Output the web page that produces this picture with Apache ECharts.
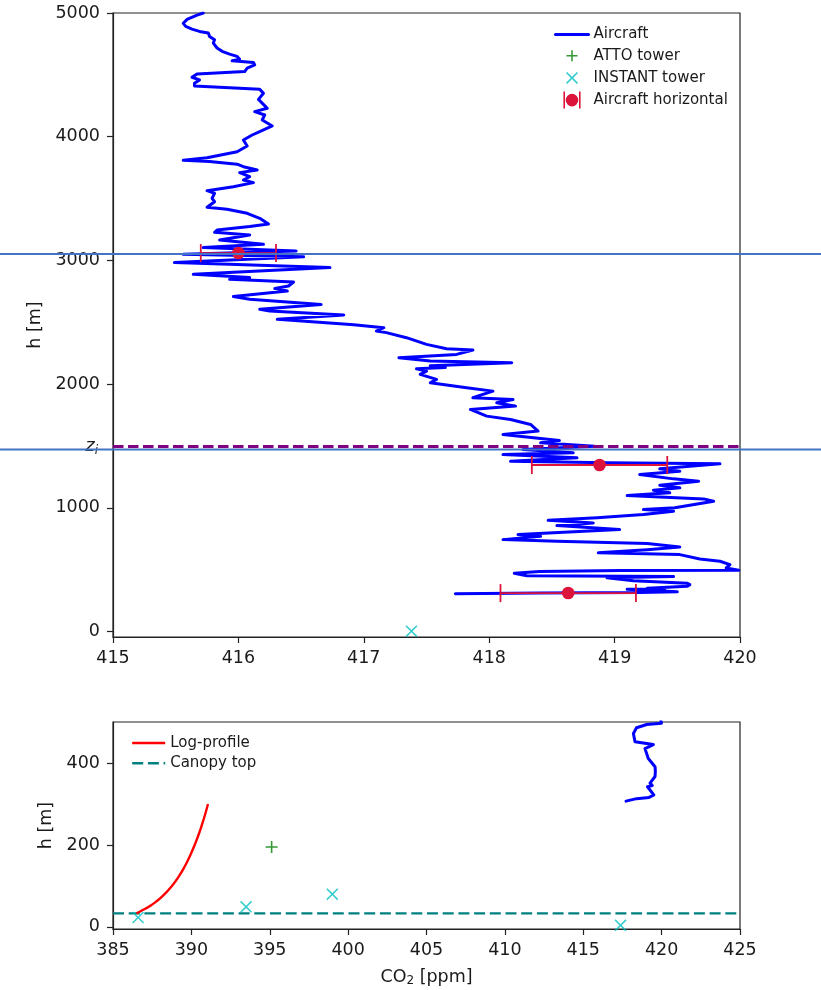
<!DOCTYPE html>
<html>
<head>
<meta charset="utf-8">
<script src="https://cdn.jsdelivr.net/npm/echarts@6.0.0/dist/echarts.min.js"></script>
<style>
html,body{margin:0;padding:0;background:#fff;}
#chart{width:821px;height:990px;}
</style>
</head>
<body>
<div id="chart"></div>
<script>
// ---------------- data ----------------
// Aircraft vertical profile (CO2 ppm, height m), bottom to top
const aircraftCO2 = [
417.73,418.40,419.20,419.50,419.10,419.40,419.26,419.58,419.60,419.58,
419.15,418.94,419.47,418.30,418.20,418.40,419.05,419.99,419.89,419.92,
419.84,419.68,419.52,418.87,419.26,419.52,419.26,418.54,418.11,418.41,
418.23,419.04,418.54,418.83,418.47,418.86,419.23,419.47,419.23,419.48,
419.79,419.71,419.10,419.44,419.31,419.52,419.36,419.67,419.47,419.20,
419.52,419.36,419.84,418.94,418.17,418.70,418.11,418.67,418.27,418.84,
418.41,418.56,418.11,418.39,418.33,418.17,417.98,417.85,418.21,418.06,
418.19,417.87,418.03,417.82,417.53,417.58,417.45,417.50,417.42,417.65,
417.53,418.18,417.53,417.28,417.74,417.87,417.66,417.50,417.34,417.18,
417.10,417.16,416.92,416.31,416.84,416.25,416.17,416.66,416.09,415.96,
416.39,416.29,416.40,416.44,415.93,416.09,415.64,416.73,415.49,416.52,
415.56,416.46,415.72,
416.20,415.85,416.09,415.81,415.83,416.09,416.24,416.17,416.07,415.91,
415.75,415.81,415.79,415.81,415.75,415.96,416.12,416.04,416.09,416.01,
416.15,416.04,415.99,415.77,415.56,415.75,415.99,416.07,416.04,416.11,
416.17,416.27,416.19,416.21,416.13,416.23,416.16,416.20,416.17,415.65,
415.65,415.69,415.63,415.67,416.05,416.07,416.13,416.12,415.95,416.01,
415.99,415.93,415.87,415.83,415.80,415.81,415.77,415.76,415.69,415.63,
415.58,415.56,415.59,415.67,415.72
];
const aircraftH = [
307,313,316,322,342,345,351,367,380,391,
411,435,445,452,472,486,494,497,515,542,
569,588,623,637,663,685,712,731,744,771,
785,825,858,879,900,920,947,973,987,1001,
1054,1073,1100,1122,1143,1163,1184,1216,1235,1270,
1297,1316,1357,1365,1378,1405,1432,1446,1472,1499,
1527,1545,1594,1621,1675,1715,1742,1796,1823,1850,
1877,1891,1944,1971,2012,2039,2079,2106,2125,2135,
2150,2174,2187,2214,2241,2276,2287,2322,2376,2417,
2430,2457,2480,2524,2560,2591,2605,2645,2686,2708,
2753,2773,2794,2826,2848,2862,2888,2943,2983,3030,
3050,3077,3104,
3131,3166,3206,3228,3246,3274,3295,3341,3381,3414,
3430,3475,3502,3543,3564,3596,3629,3650,3677,3710,
3731,3758,3778,3800,3810,3830,3879,3925,3974,4014,
4041,4087,4135,4176,4203,4230,4302,4351,4383,4410,
4432,4459,4481,4508,4527,4554,4581,4600,4614,4627,
4649,4668,4690,4717,4757,4784,4811,4838,4851,4870,
4892,4916,4948,4983,5000
];
// ATTO tower
const attoCO2 = [395.12];
const attoH = [195];
// INSTANT tower
const instantCO2 = [386.60, 393.49, 398.99, 417.38];
const instantH = [23, 49, 80, 4];
// Aircraft horizontal legs: mean, std, height
const horizCO2 = [416.00, 418.88, 418.63];
const horizErr = [0.30, 0.54, 0.54];
const horizH = [3060, 1347, 312];
// Log-profile
const logCO2 = [386.50,386.84,387.31,387.69,388.16,388.76,389.23,389.61,389.93,390.21,390.46,390.68,390.88,391.06];
const logH   = [33,40,50,60,75,100,125,150,175,200,225,250,275,300];
// Canopy top and boundary-layer height
const canopyTop = 33;
const ziHeight = 1500;
// Overlay reference lines (heights, m)
const overlayH = [3052, 1472];
// Axis ticks
const topYTicks = [0, 1000, 2000, 3000, 4000, 5000];
const bottomYTicks = [0, 200, 400];
const topXRange = [415, 420];
const bottomXRange = [385, 425];

// ---------------- chart ----------------
const FONT = 'DejaVu Sans';
const TXT = '#1a1a1a';
const zip = (a, b) => a.map((v, i) => [v, b[i]]);
const aircraftData = zip(aircraftCO2, aircraftH);
const attoData = zip(attoCO2, attoH);
const instantData = zip(instantCO2, instantH);
const horizData = horizCO2.map((v, i) => [v, horizH[i], horizErr[i]]);
const logData = zip(logCO2, logH);
const canopyData = [[bottomXRange[0], canopyTop], [bottomXRange[1], canopyTop]];

const PLUS = 'path://M-0.8,-6h1.6v5.2h5.2v1.6h-5.2v5.2h-1.6v-5.2h-5.2v-1.6h5.2z';
const CROSS = 'path://M-6,-4.9L-4.9,-6L0,-1.1L4.9,-6L6,-4.9L1.1,0L6,4.9L4.9,6L0,1.1L-4.9,6L-6,4.9L-1.1,0Z';
const PLUS_ICON = 'path://M0,0L0,0ZM33,17L33,17ZM15.7,3h1.6v4.7h4.7v1.6h-4.7v4.7h-1.6v-4.7h-4.7v-1.6h4.7z';
const CROSS_ICON = 'path://M0,0L0,0ZM33,17L33,17ZM10.5,3.6L11.6,2.5L16.5,7.4L21.4,2.5L22.5,3.6L17.6,8.5L22.5,13.4L21.4,14.5L16.5,9.6L11.6,14.5L10.5,13.4L15.4,8.5Z';
const EB_ICON = 'path://M0,0L0,0ZM33,17L33,17ZM7.9,0h1.6v17h-1.6zM23.5,0h1.6v17h-1.6zM10.2,8.5A6.3,6.3,0,1,0,22.8,8.5A6.3,6.3,0,1,0,10.2,8.5Z';

const BLUE = '#0000ff', GREEN = '#008000', CYAN = '#00bfbf', CRIMSON = '#dc143c';

const chart = echarts.init(document.getElementById('chart'), null, {renderer: 'canvas'});

function xAxisCfg(gi, range, interval, withName) {
  return {
    type: 'value', gridIndex: gi, min: range[0], max: range[1], interval: interval,
    axisLine: {show: true, onZero: false, lineStyle: {color: '#222', width: 1.2}},
    axisTick: {show: true, length: 6, lineStyle: {color: '#222', width: 1.2}},
    axisLabel: {color: TXT, fontSize: 17.5, fontFamily: FONT, margin: 12, formatter: v => String(v)},
    splitLine: {show: false},
    name: withName ? '{a|CO}{s|2}{a| [ppm]}' : '',
    nameLocation: 'middle', nameGap: 38,
    nameTextStyle: {color: TXT, fontFamily: FONT, fontSize: 17.5,
      rich: {a: {fontSize: 17.5, fontFamily: FONT, color: TXT},
             s: {fontSize: 12, fontFamily: FONT, color: TXT, padding: [8, 0, 0, 0]}}}
  };
}
function yAxisCfg(gi, min, max, ticks, gap) {
  return {
    type: 'value', gridIndex: gi, min: min, max: max,
    axisLine: {show: true, onZero: false, lineStyle: {color: '#222', width: 1.2}},
    axisTick: {show: true, length: 6, customValues: ticks, lineStyle: {color: '#222', width: 1.2}},
    axisLabel: {color: TXT, fontSize: 17.5, fontFamily: FONT, margin: 13, customValues: ticks, formatter: v => String(v)},
    splitLine: {show: false},
    name: 'h [m]', nameLocation: 'middle', nameGap: gap,
    nameTextStyle: {color: TXT, fontFamily: FONT, fontSize: 17.5}
  };
}

const hideSym = {color: 'transparent', borderWidth: 0, borderColor: 'transparent'};

const option = {
  backgroundColor: '#fff',
  animation: false,
  textStyle: {fontFamily: FONT},
  grid: [
    {left: 113, top: 13, width: 627, height: 624, show: true, borderColor: '#222', borderWidth: 1.2, backgroundColor: 'transparent'},
    {left: 113, top: 722, width: 627, height: 207, show: true, borderColor: '#222', borderWidth: 1.2, backgroundColor: 'transparent'}
  ],
  xAxis: [xAxisCfg(0, topXRange, 1, false), xAxisCfg(1, bottomXRange, 5, true)],
  yAxis: [yAxisCfg(0, -43, 5000, topYTicks, 55), yAxisCfg(1, -5, 500, bottomYTicks, 54)],
  legend: [
    {
      orient: 'vertical', left: 549, top: 22, itemWidth: 33, itemHeight: 17, itemGap: 5.2,
      textStyle: {fontSize: 15, color: TXT, fontFamily: FONT},
      selectedMode: false,
      data: [
        {name: 'Aircraft', itemStyle: hideSym, lineStyle: {width: 3}},
        {name: 'ATTO tower', icon: PLUS_ICON},
        {name: 'INSTANT tower', icon: CROSS_ICON},
        {name: 'Aircraft horizontal', icon: EB_ICON}
      ]
    },
    {
      orient: 'vertical', left: 126, top: 730.5, itemWidth: 33, itemHeight: 17, itemGap: 5.3,
      textStyle: {fontSize: 15, color: TXT, fontFamily: FONT},
      selectedMode: false,
      data: [
        {name: 'Log-profile', itemStyle: hideSym, lineStyle: {width: 2.4}},
        {name: 'Canopy top', itemStyle: hideSym, lineStyle: {width: 2.4}}
      ]
    }
  ],
  series: [
    // ---- top panel ----
    {
      name: 'Aircraft', type: 'line', xAxisIndex: 0, yAxisIndex: 0, data: aircraftData,
      showSymbol: false, symbol: 'none', clip: true, z: 3,
      lineStyle: {color: BLUE, width: 3, join: 'round', cap: 'round'}, itemStyle: {color: BLUE}
    },
    {
      name: 'zi', type: 'line', xAxisIndex: 0, yAxisIndex: 0, data: [], z: 2,
      markLine: {
        silent: true, symbol: 'none', animation: false,
        lineStyle: {color: '#800080', width: 2.8, type: [10.5, 4.5]},
        label: {show: true, position: 'start', distance: 15, formatter: '{z|z}{i|i}',
          rich: {z: {fontSize: 18, fontStyle: 'italic', color: TXT, fontFamily: FONT},
                 i: {fontSize: 12, fontStyle: 'italic', color: TXT, fontFamily: FONT, padding: [9, 0, 0, 0]}}},
        data: [{yAxis: ziHeight}]
      }
    },
    {
      name: 'ATTO tower', type: 'scatter', xAxisIndex: 0, yAxisIndex: 0, data: attoData,
      symbol: PLUS, symbolSize: 12, itemStyle: {color: GREEN}, clip: true, z: 4
    },
    {
      name: 'INSTANT tower', type: 'scatter', xAxisIndex: 0, yAxisIndex: 0, data: instantData,
      symbol: CROSS, symbolSize: 12, itemStyle: {color: CYAN}, clip: true, z: 4
    },
    {
      name: 'Aircraft horizontal', type: 'custom', xAxisIndex: 0, yAxisIndex: 0, data: horizData,
      itemStyle: {color: CRIMSON}, z: 5,
      encode: {x: 0, y: 1},
      renderItem: function (params, api) {
        const x = api.value(0), y = api.value(1), e = api.value(2);
        const p0 = api.coord([x - e, y]), p1 = api.coord([x + e, y]), c = api.coord([x, y]);
        const st = {stroke: CRIMSON, lineWidth: 1.8, fill: null};
        return {type: 'group', children: [
          {type: 'line', shape: {x1: p0[0], y1: p0[1], x2: p1[0], y2: p1[1]}, style: st},
          {type: 'line', shape: {x1: p0[0], y1: p0[1] - 9, x2: p0[0], y2: p0[1] + 9}, style: st},
          {type: 'line', shape: {x1: p1[0], y1: p1[1] - 9, x2: p1[0], y2: p1[1] + 9}, style: st},
          {type: 'circle', shape: {cx: c[0], cy: c[1], r: 6.3}, style: {fill: CRIMSON}}
        ]};
      }
    },
    // ---- bottom panel ----
    {
      name: 'Aircraft', type: 'line', xAxisIndex: 1, yAxisIndex: 1, data: aircraftData,
      showSymbol: false, symbol: 'none', clip: true, z: 3,
      lineStyle: {color: BLUE, width: 3, join: 'round', cap: 'round'}, itemStyle: {color: BLUE}
    },
    {
      name: 'ATTO tower', type: 'scatter', xAxisIndex: 1, yAxisIndex: 1, data: attoData,
      symbol: PLUS, symbolSize: 12, itemStyle: {color: GREEN}, clip: true, z: 4
    },
    {
      name: 'INSTANT tower', type: 'scatter', xAxisIndex: 1, yAxisIndex: 1, data: instantData,
      symbol: CROSS, symbolSize: 12, itemStyle: {color: CYAN}, clip: true, z: 4
    },
    {
      name: 'Log-profile', type: 'line', xAxisIndex: 1, yAxisIndex: 1, data: logData,
      showSymbol: false, symbol: 'none', smooth: true, z: 3,
      lineStyle: {color: '#ff0000', width: 2.4}, itemStyle: {color: '#ff0000'}
    },
    {
      name: 'Canopy top', type: 'line', xAxisIndex: 1, yAxisIndex: 1, data: canopyData,
      showSymbol: false, symbol: 'none', z: 2,
      lineStyle: {color: '#008080', width: 2.4, type: [11, 4.7]}, itemStyle: {color: '#008080'}
    }
  ]
};
chart.setOption(option);

// Full-width overlay lines at given heights (positioned through the top panel's y scale)
const W = chart.getWidth();
chart.setOption({
  graphic: overlayH.map(h => {
    const y = chart.convertToPixel({yAxisIndex: 0}, h);
    return {type: 'line', z: 100, silent: true,
      shape: {x1: 0, y1: y, x2: W, y2: y},
      style: {stroke: '#4472c4', lineWidth: 2}};
  })
});
</script>
</body>
</html>
